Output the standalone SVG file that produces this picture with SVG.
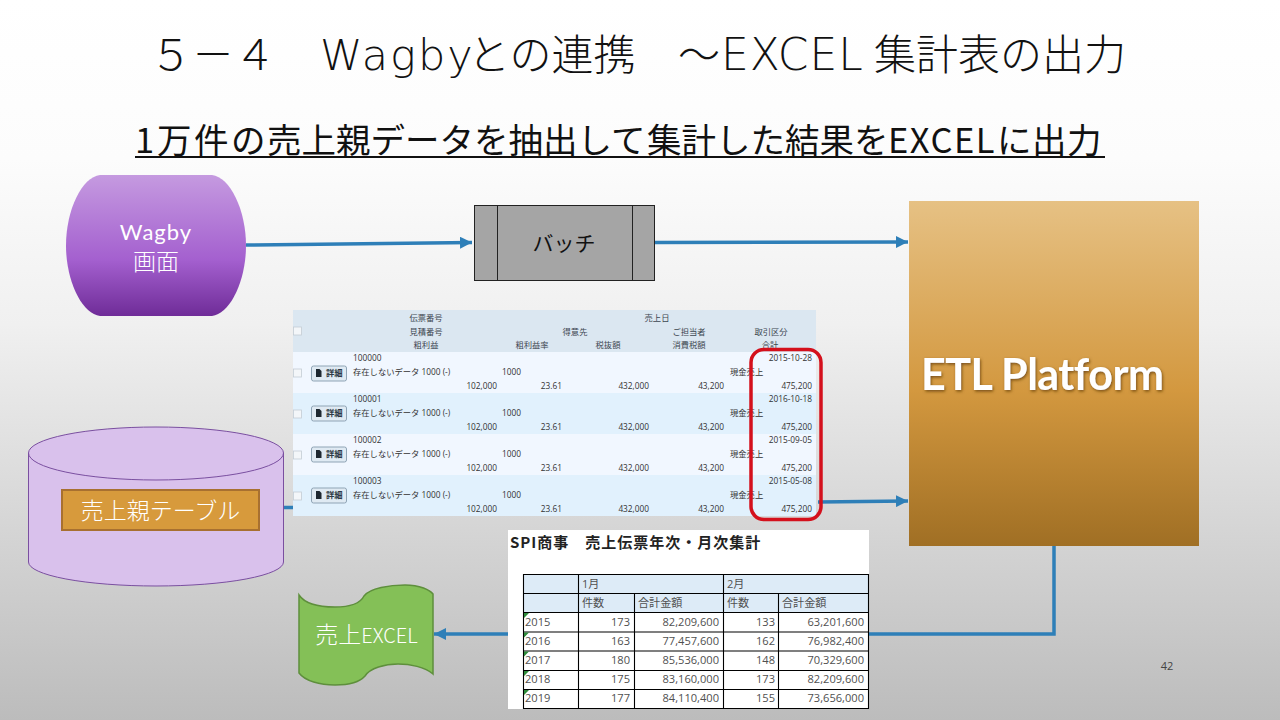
<svg xmlns="http://www.w3.org/2000/svg" width="1280" height="720" viewBox="0 0 1280 720">
<style>
text{font-family:"Open Sans","Noto Sans CJK JP",sans-serif}
.jp{font-family:"Noto Sans CJK JP",sans-serif}
.lat{font-family:"DejaVu Sans ExtraLight","DejaVu Sans",sans-serif;font-weight:200}
.wt{fill:#fff;text-anchor:middle}
.c{stroke:#2e7fb8;stroke-width:3.5;fill:none}
.w{font-size:8.3px;fill:#333}
.wb{font-size:8.3px;fill:#2d3a45;font-weight:700}
.wh{font-size:8.3px;fill:#3c4650;text-anchor:middle}
.r{text-anchor:end}
.x{font-size:11.1px;fill:#505050}
.gl{stroke:#000;stroke-width:1.1;fill:none}
</style>
<defs>
<linearGradient id="bg" x1="0" y1="0" x2="0" y2="1"><stop offset="0" stop-color="#fff"/><stop offset=".22" stop-color="#fcfcfc"/><stop offset=".45" stop-color="#f0f0f0"/><stop offset="1" stop-color="#bcbcbc"/></linearGradient>
<linearGradient id="pu" x1="0" y1="0" x2="0" y2="1"><stop offset="0" stop-color="#c59ae0"/><stop offset=".6" stop-color="#a460cf"/><stop offset="1" stop-color="#6f2c98"/></linearGradient>
<linearGradient id="or" x1="0" y1="0" x2="0" y2="1"><stop offset="0" stop-color="#e6c184"/><stop offset=".55" stop-color="#d3983f"/><stop offset="1" stop-color="#a06f24"/></linearGradient>
<marker id="a" markerUnits="userSpaceOnUse" markerWidth="13" markerHeight="12" refX="12" refY="6" orient="auto"><path d="M0 0L12 6L0 12z" fill="#2e7fb8"/></marker>
<filter id="sh" x="-10%" y="-30%" width="120%" height="160%"><feDropShadow dx="1" dy="1.5" stdDeviation="1.5" flood-color="#6b4210" flood-opacity=".85"/></filter>
<path id="doc" d="M0 0H3.500L5.500 2V8H0Z" fill="#1d2730"/>
</defs>
<rect width="1280" height="720" fill="url(#bg)"/>
<g id="title">
<text class="jp" y="70" font-size="42" font-weight="300" fill="#111"><tspan x="150">５－４</tspan><tspan class="lat" x="320" font-size="43" letter-spacing="2">Wagby</tspan><tspan x="468">との連携</tspan><tspan x="678">～</tspan><tspan class="lat" x="721" font-size="44" letter-spacing="1">EXCEL</tspan><tspan x="874">集計表の出力</tspan></text>
<text class="jp" y="153" font-size="34.5" fill="#111"><tspan x="135">1</tspan><tspan x="157" letter-spacing="2.500">万件の</tspan><tspan x="267">売上親データを抽出して</tspan><tspan x="647">集計した結果を</tspan><tspan x="888" letter-spacing="1.500">EXCEL</tspan><tspan x="997" letter-spacing=".5">に出力</tspan></text>
<path d="M135 157H1105" stroke="#111" stroke-width="2" fill="none"/>
</g>
<g id="connectors">
<path class="c" d="M246 245L472 242.500" marker-end="url(#a)"/>
<path class="c" d="M655 242.500L908 242" marker-end="url(#a)"/>
<path class="c" d="M262 507.500H294"/>
<path class="c" d="M818 502L908 501" marker-end="url(#a)"/>
<path class="c" d="M1054 546V634H868"/>
<path class="c" d="M508 634H434" marker-end="url(#a)"/>
</g>
<g id="wagby">
<path d="M100 175H212C230 177 246 210 246 245.500C246 281 230 314 212 316H100C82 314 66 281 66 245.500C66 210 82 177 100 175Z" fill="url(#pu)"/>
<text class="wt" x="156" y="240" font-size="22" letter-spacing="1" style="font-family:Lato,sans-serif">Wagby</text>
<text class="wt jp" x="156" y="270" font-size="23" font-weight="300">画面</text>
</g>
<g id="batch">
<rect x="474.500" y="205.500" width="180" height="75" fill="#a5a5a5" stroke="#222"/>
<path d="M497.500 205.500V280.500M632.500 205.500V280.500" stroke="#222" fill="none"/>
<text class="jp" x="564" y="251" font-size="21" fill="#111" text-anchor="middle">バッチ</text>
</g>
<g id="etl">
<rect x="909" y="201" width="290" height="345" fill="url(#or)"/>
<text x="921" y="390" font-size="43" font-weight="700" fill="#fff" filter="url(#sh)" letter-spacing="1" style="font-family:Lato,sans-serif" textLength="244">ETL Platform</text>
</g>
<g id="table-db">
<path d="M28.500 453A127.500 26 0 0 1 283.500 453V562A127.500 24 0 0 1 28.500 562Z" fill="#d9c1ec" stroke="#7a4fa0"/>
<path d="M28.500 453A127.500 27 0 0 0 283.500 453" fill="none" stroke="#7a4fa0"/>
<rect x="62" y="490" width="197" height="40" fill="#d79a3c" stroke="#a87030" stroke-width="2"/>
<text class="wt jp" x="160.500" y="519" font-size="23" font-weight="300">売上親テーブル</text>
</g>
<g id="web-list">
<rect x="293" y="310" width="523" height="42" fill="#dbe7f1"/>
<rect x="293" y="352" width="523" height="41" fill="#f1f7ff"/>
<rect x="293" y="393" width="523" height="41" fill="#e1f1fd"/>
<rect x="293" y="434" width="523" height="41" fill="#f1f7ff"/>
<rect x="293" y="475" width="523" height="41" fill="#e1f1fd"/>
<g fill="#f3f6f9" stroke="#c4ccd4" stroke-width=".8">
<rect x="293.500" y="327" width="8" height="8"/><rect x="293.500" y="369" width="8" height="8"/><rect x="293.500" y="410" width="8" height="8"/><rect x="293.500" y="451" width="8" height="8"/><rect x="293.500" y="492" width="8" height="8"/>
</g>
<g fill="#dfeaf3" stroke="#8fa4b5">
<rect x="311.500" y="366" width="35" height="15" rx="2"/><rect x="311.500" y="406" width="35" height="15" rx="2"/><rect x="311.500" y="447" width="35" height="15" rx="2"/><rect x="311.500" y="488" width="35" height="15" rx="2"/>
</g>
<use href="#doc" x="316" y="369"/><use href="#doc" x="316" y="409"/><use href="#doc" x="316" y="450"/><use href="#doc" x="316" y="491"/>
<g>
<text class="wh" x="426" y="321">伝票番号</text><text class="wh" x="426" y="335">見積番号</text><text class="wh" x="426" y="348">粗利益</text>
<text class="wh" x="532" y="348">粗利益率</text><text class="wh" x="575" y="335">得意先</text><text class="wh" x="657" y="321">売上日</text>
<text class="wh" x="608" y="348">税抜額</text><text class="wh" x="689" y="335">ご担当者</text><text class="wh" x="689" y="348">消費税額</text>
<text class="wh" x="771" y="335">取引区分</text><text class="wh" x="770" y="348">合計</text>
</g>
<g>
<text class="wb" x="326" y="376">詳細</text><text class="wb" x="326" y="416">詳細</text><text class="wb" x="326" y="457">詳細</text><text class="wb" x="326" y="498">詳細</text>
<text class="w" x="353" y="361">100000</text><text class="w" x="353" y="375">存在しないデータ 1000 (-)</text><text class="w" x="502" y="375">1000</text>
<text class="w r" x="497" y="389">102,000</text><text class="w r" x="562" y="389">23.61</text><text class="w r" x="649" y="389">432,000</text><text class="w r" x="724" y="389">43,200</text><text class="w" x="730" y="375">現金売上</text><text class="w r" x="812" y="361">2015-10-28</text><text class="w r" x="812" y="389">475,200</text>
<text class="w" x="353" y="402">100001</text><text class="w" x="353" y="416">存在しないデータ 1000 (-)</text><text class="w" x="502" y="416">1000</text>
<text class="w r" x="497" y="430">102,000</text><text class="w r" x="562" y="430">23.61</text><text class="w r" x="649" y="430">432,000</text><text class="w r" x="724" y="430">43,200</text><text class="w" x="730" y="416">現金売上</text><text class="w r" x="812" y="402">2016-10-18</text><text class="w r" x="812" y="430">475,200</text>
<text class="w" x="353" y="443">100002</text><text class="w" x="353" y="457">存在しないデータ 1000 (-)</text><text class="w" x="502" y="457">1000</text>
<text class="w r" x="497" y="471">102,000</text><text class="w r" x="562" y="471">23.61</text><text class="w r" x="649" y="471">432,000</text><text class="w r" x="724" y="471">43,200</text><text class="w" x="730" y="457">現金売上</text><text class="w r" x="812" y="443">2015-09-05</text><text class="w r" x="812" y="471">475,200</text>
<text class="w" x="353" y="484">100003</text><text class="w" x="353" y="498">存在しないデータ 1000 (-)</text><text class="w" x="502" y="498">1000</text>
<text class="w r" x="497" y="512">102,000</text><text class="w r" x="562" y="512">23.61</text><text class="w r" x="649" y="512">432,000</text><text class="w r" x="724" y="512">43,200</text><text class="w" x="730" y="498">現金売上</text><text class="w r" x="812" y="484">2015-05-08</text><text class="w r" x="812" y="512">475,200</text>
</g>
<rect x="751" y="349.500" width="70" height="170" rx="13" fill="none" stroke="#d4101c" stroke-width="3.500"/>
</g>
<g id="excel-table">
<rect x="508" y="530" width="361" height="179" fill="#fff"/>
<text class="jp" x="510" y="548" font-size="15" font-weight="700" fill="#222" letter-spacing="1">SPI商事　売上伝票年次・月次集計</text>
<rect x="523" y="574" width="345" height="38" fill="#ddebf7"/>
<path class="gl" d="M523.500 574.500H868.500V708.500H523.500ZM523.500 593.500H868.500M523.500 612.500H868.500M523.500 632H868.500M523.500 651H868.500M523.500 670.500H868.500M523.500 689.500H868.500M578.500 574.500V708.500M634.500 593.500V708.500M723.500 574.500V708.500M778.500 593.500V708.500"/>
<path fill="#2e8b3a" d="M524 613h5l-5 5zM524 632.500h5l-5 5zM524 651.500h5l-5 5zM524 671h5l-5 5zM524 690h5l-5 5z"/>
<g>
<text class="x" x="582" y="588">1月</text><text class="x" x="727" y="588">2月</text>
<text class="x" x="582" y="607">件数</text><text class="x" x="638" y="607">合計金額</text><text class="x" x="727" y="607">件数</text><text class="x" x="782" y="607">合計金額</text>
<text class="x" x="525" y="626">2015</text><text class="x r" x="630" y="626">173</text><text class="x r" x="719" y="626">82,209,600</text><text class="x r" x="775" y="626">133</text><text class="x r" x="864" y="626">63,201,600</text>
<text class="x" x="525" y="645">2016</text><text class="x r" x="630" y="645">163</text><text class="x r" x="719" y="645">77,457,600</text><text class="x r" x="775" y="645">162</text><text class="x r" x="864" y="645">76,982,400</text>
<text class="x" x="525" y="664">2017</text><text class="x r" x="630" y="664">180</text><text class="x r" x="719" y="664">85,536,000</text><text class="x r" x="775" y="664">148</text><text class="x r" x="864" y="664">70,329,600</text>
<text class="x" x="525" y="683">2018</text><text class="x r" x="630" y="683">175</text><text class="x r" x="719" y="683">83,160,000</text><text class="x r" x="775" y="683">173</text><text class="x r" x="864" y="683">82,209,600</text>
<text class="x" x="525" y="702">2019</text><text class="x r" x="630" y="702">177</text><text class="x r" x="719" y="702">84,110,400</text><text class="x r" x="775" y="702">155</text><text class="x r" x="864" y="702">73,656,000</text>
</g>
</g>
<g id="sales-excel">
<path d="M299 595C305 604 320 607 335 607C350 607 360 604 364 596C370 588 390 585 405 585C420 585 430 590 433 594V674C425 667 410 664 398 664C385 664 370 668 365 676C358 684 345 685 335 685C320 685 305 681 299 673Z" fill="#84c057" stroke="#5e8f3c" stroke-width="1.500"/>
<text class="wt jp" x="366.500" y="643" font-size="23" font-weight="300">売上<tspan font-size="20">EXCEL</tspan></text>
</g>
<text id="page" x="1167" y="670" font-size="11" fill="#444" text-anchor="middle">42</text>
</svg>
